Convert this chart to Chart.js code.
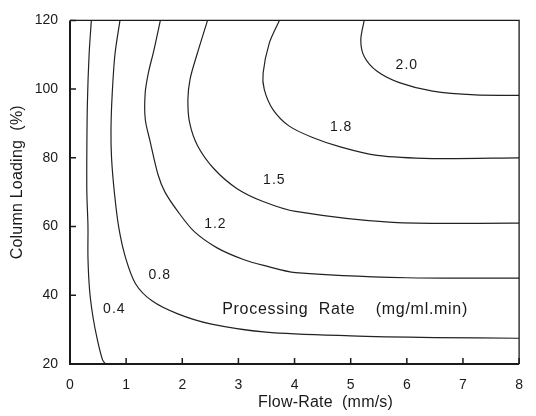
<!DOCTYPE html>
<html>
<head>
<meta charset="utf-8">
<script src="https://cdn.jsdelivr.net/npm/chart.js@4"></script>
<style>
  html, body { margin: 0; padding: 0; background: #fff; }
  #wrap { width: 536px; height: 416px; }
</style>
</head>
<body>
<div id="wrap"><canvas id="contourChart"></canvas></div>
<script>
// ---- contour data: flow-rate (mm/s) vs column loading (%) ----
const levels = ["0.4", "0.8", "1.2", "1.5", "1.8", "2.0"];

const flow04 = [0.63, 0.58, 0.49, 0.41, 0.35, 0.32, 0.32, 0.30, 0.30, 0.31, 0.34, 0.38];
const load04 = [20, 21.2, 26.9, 33.6, 41.3, 50.9, 60, 70, 82, 96, 110, 120];

const flow08 = [8, 6.5, 5, 3.49, 2.5, 1.92, 1.46, 1.17, 0.99, 0.87, 0.79, 0.74, 0.73, 0.75, 0.80, 0.89];
const load08 = [27.5, 27.7, 28.2, 29.3, 31.7, 34.6, 38.4, 43.3, 50.9, 59.6, 70, 80, 88, 98, 110, 120];

const flow12 = [8, 6, 4.02, 3.45, 3.09, 2.62, 2.21, 1.92, 1.69, 1.57, 1.43, 1.34, 1.34, 1.40, 1.49, 1.61];
const load12 = [45, 45.1, 46.6, 48.7, 50.4, 53.8, 58.6, 64.4, 70.1, 75, 84.6, 91.3, 99, 105, 111, 120];

const flow15 = [8, 5.75, 4.02, 3.44, 2.97, 2.56, 2.27, 2.13, 2.10, 2.14, 2.27, 2.45];
const load15 = [61, 61.2, 64.4, 67.3, 71.1, 76.9, 83.6, 90.3, 97, 103, 110.5, 120];

const flow18 = [8, 6.46, 5.47, 4.83, 4.31, 3.9, 3.61, 3.46, 3.44, 3.55, 3.73];
const load18 = [80, 79.8, 80.7, 83.1, 86, 89.3, 94.2, 99.9, 104.7, 113.4, 120];

const flow20 = [8, 7.22, 6.46, 5.88, 5.47, 5.24, 5.18, 5.24];
const load20 = [98.2, 98.3, 99.4, 101.8, 105.2, 109.5, 114.3, 120];

// in-plot labels (text, flow, loading)
const labelText = ["0.4", "0.8", "1.2", "1.5", "1.8", "2.0", "Processing  Rate    (mg/ml.min)"];
const labelFlow = [0.79, 1.6, 2.59, 3.64, 4.83, 6.0, 4.9];
const labelLoad = [36, 46, 60.6, 73.6, 89, 107, 35.8];

const xTicks = [0, 1, 2, 3, 4, 5, 6, 7, 8];
const yTicks = [20, 40, 60, 80, 100, 120];

const xTitle = "Flow-Rate  (mm/s)";
const yTitle = "Column Loading  (%)";

const FONT = "'Liberation Sans', Arial, Helvetica, sans-serif";
const INK = "#1a1a1a";

const flows = [flow04, flow08, flow12, flow15, flow18, flow20];
const loads = [load04, load08, load12, load15, load18, load20];

const datasets = levels.map((lvl, i) => ({
  label: lvl,
  data: flows[i].map((x, j) => ({ x: x, y: loads[i][j] })),
  showLine: true,
  borderColor: "#222",
  borderWidth: 1.2,
  pointRadius: 0,
  tension: 0.3,
  fill: false
}));

// box, inward ticks, contour labels, axis titles
const decor = {
  id: "decor",
  afterDatasetsDraw(chart) {
    const { ctx, chartArea: a, scales: { x, y } } = chart;
    ctx.save();
    ctx.strokeStyle = INK;

    // frame
    ctx.lineWidth = 1.3;
    ctx.beginPath();
    ctx.moveTo(a.left, a.top);
    ctx.lineTo(a.right, a.top);
    ctx.lineTo(a.right, a.bottom);
    ctx.stroke();
    ctx.lineWidth = 2;
    ctx.beginPath();
    ctx.moveTo(a.left, a.top);
    ctx.lineTo(a.left, a.bottom);
    ctx.lineTo(a.right, a.bottom);
    ctx.stroke();

    // ticks pointing in
    ctx.lineWidth = 1.5;
    ctx.beginPath();
    xTicks.forEach(v => {
      const px = x.getPixelForValue(v);
      ctx.moveTo(px, a.bottom);
      ctx.lineTo(px, a.bottom - 6);
    });
    yTicks.forEach(v => {
      const py = y.getPixelForValue(v);
      ctx.moveTo(a.left, py);
      ctx.lineTo(a.left + 6, py);
    });
    ctx.stroke();

    // contour labels
    ctx.fillStyle = INK;
    ctx.textAlign = "center";
    ctx.textBaseline = "middle";
    labelText.forEach((t, i) => {
      const big = t.length > 4;
      ctx.font = (big ? "16px " : "14px ") + FONT;
      ctx.letterSpacing = big ? "0.7px" : "1px";
      ctx.fillText(t, x.getPixelForValue(labelFlow[i]), y.getPixelForValue(labelLoad[i]));
    });

    // axis titles
    ctx.letterSpacing = "0.2px";
    ctx.font = "16px " + FONT;
    ctx.fillText(xTitle, (a.left + a.right) / 2 + 31, a.bottom + 39);
    ctx.translate(18, (a.top + a.bottom) / 2 - 10);
    ctx.rotate(-Math.PI / 2);
    ctx.fillText(yTitle, 0, 0);
    ctx.restore();
  }
};

new Chart(document.getElementById("contourChart"), {
  type: "scatter",
  data: { datasets: datasets },
  options: {
    responsive: true,
    maintainAspectRatio: false,
    animation: false,
    layout: { padding: { top: 17, right: 8, left: 0, bottom: 0 } },
    plugins: {
      legend: { display: false },
      tooltip: { enabled: false }
    },
    scales: {
      x: {
        type: "linear",
        min: 0,
        max: 8,
        afterBuildTicks: s => { s.ticks = xTicks.map(v => ({ value: v })); },
        afterFit: s => { s.height = 52; },
        grid: { display: false, drawTicks: false },
        border: { display: false },
        ticks: { color: INK, font: { family: FONT, size: 14 }, padding: 13, maxRotation: 0 }
      },
      y: {
        type: "linear",
        min: 20,
        max: 120,
        afterBuildTicks: s => { s.ticks = yTicks.map(v => ({ value: v })); },
        afterFit: s => { s.width = 70; },
        grid: { display: false, drawTicks: false },
        border: { display: false },
        ticks: { color: INK, font: { family: FONT, size: 14 }, padding: 12 }
      }
    }
  },
  plugins: [decor]
});
</script>
</body>
</html>
